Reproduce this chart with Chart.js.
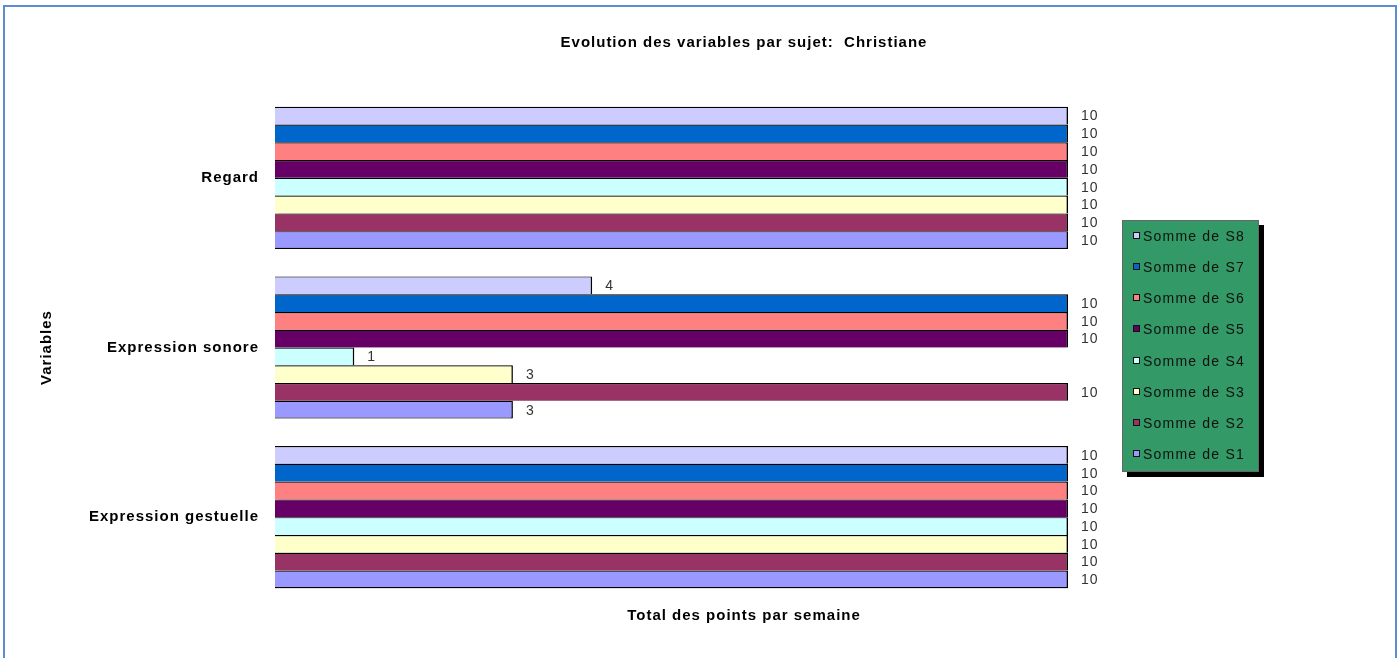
<!DOCTYPE html>
<html><head><meta charset="utf-8">
<script src="https://cdn.jsdelivr.net/npm/chart.js@4.4.0/dist/chart.umd.min.js"></script>
<style>
html,body{margin:0;padding:0;background:#fff;}
#wrap{position:relative;width:1399px;height:658px;overflow:hidden;}
#frame{position:absolute;left:3px;top:5px;width:1390px;height:700px;border:2px solid #5B8DD3;}
canvas{position:absolute;left:0;top:0;}
</style></head><body>
<div id="wrap"><div id="frame"></div><canvas id="c" width="1399" height="658"></canvas></div>
<script>
// ---- data ----
const categories = ['Regard', 'Expression sonore', 'Expression gestuelle'];
const seriesNames = ['Somme de S8', 'Somme de S7', 'Somme de S6', 'Somme de S5', 'Somme de S4', 'Somme de S3', 'Somme de S2', 'Somme de S1'];
const S8 = [10, 4, 10];
const S7 = [10, 10, 10];
const S6 = [10, 10, 10];
const S5 = [10, 10, 10];
const S4 = [10, 1, 10];
const S3 = [10, 3, 10];
const S2 = [10, 10, 10];
const S1 = [10, 3, 10];
const seriesValues = [S8, S7, S6, S5, S4, S3, S2, S1];
const xMin = 0, xMax = 10;
const chartTitle = 'Evolution des variables par sujet:  Christiane';
const xTitle = 'Total des points par semaine';
const yTitle = 'Variables';

// ---- styles ----
const seriesColors = ['#CCCCFF', '#0066CC', '#FF8080', '#660066', '#CCFFFF', '#FFFFCC', '#993366', '#9999FF'];
const FONT = "'Liberation Sans', Arial, sans-serif";

const decor = {
  id: 'decor',
  beforeDraw(chart) { chart.ctx.letterSpacing = '1px'; },
  beforeDatasetsDraw(chart) {
    const c = chart.ctx;
    c.save();
    c.shadowColor = 'rgba(0,0,0,0.4)';
    c.shadowOffsetX = -1;
    c.shadowOffsetY = 1;
    c.shadowBlur = 1.5;
  },
  afterDatasetsDraw(chart) {
    const c = chart.ctx;
    c.restore();
    c.save();
    c.letterSpacing = '1px';
    c.font = '14px ' + FONT;
    c.fillStyle = '#333';
    c.textAlign = 'left';
    c.textBaseline = 'middle';
    chart.data.datasets.forEach((ds, i) => {
      const meta = chart.getDatasetMeta(i);
      meta.data.forEach((el, j) => {
        c.fillText(String(ds.data[j]), el.x + 13, el.y + 1);
      });
    });
    c.restore();
  },
  afterDraw(chart) {
    const c = chart.ctx;
    c.save();
    // titles
    c.letterSpacing = '1px';
    c.font = 'bold 15px ' + FONT;
    c.fillStyle = '#000';
    c.textAlign = 'center';
    c.textBaseline = 'middle';
    c.fillText(chartTitle, 744, 43);
    c.fillText(xTitle, 744, 616);
    // legend
    const lx = 1122, ly = 220, lw = 137, lh = 252;
    c.fillStyle = '#000';
    c.fillRect(lx + 5, ly + 5, lw, lh);
    c.fillStyle = '#339966';
    c.fillRect(lx, ly, lw, lh);
    c.strokeStyle = '#666';
    c.lineWidth = 1;
    c.strokeRect(lx + 0.5, ly + 0.5, lw - 1, lh - 1);
    c.letterSpacing = '1.2px';
    c.font = '14px ' + FONT;
    c.textAlign = 'left';
    chart.data.datasets.forEach((ds, i) => {
      const y = Math.round(236 + i * 31.15);
      c.fillStyle = ds.backgroundColor;
      c.fillRect(1133, y - 4, 7, 7);
      c.strokeStyle = '#111';
      c.strokeRect(1133.5, y - 3.5, 6, 6);
      c.fillStyle = '#111';
      c.fillText(ds.label, 1143, y + 1);
    });
    c.restore();
  }
};

new Chart(document.getElementById('c'), {
  type: 'bar',
  data: {
    labels: categories,
    datasets: seriesValues.map((v, i) => ({
      label: seriesNames[i],
      data: v,
      backgroundColor: seriesColors[i],
      borderColor: '#000',
      borderWidth: i === seriesValues.length - 1 ? {top: 1.2, right: 1.5, bottom: 1.2, left: 0} : {top: 1.2, right: 1.5, bottom: 0, left: 0},
      borderSkipped: false,
      categoryPercentage: 0.838,
      barPercentage: 1
    }))
  },
  options: {
    indexAxis: 'y',
    responsive: false,
    animation: false,
    layout: {padding: {top: 93, bottom: 56, left: 30, right: 331}},
    plugins: {legend: {display: false}, tooltip: {enabled: false}, title: {display: false}},
    scales: {
      x: {display: false, min: xMin, max: xMax},
      y: {
        grid: {display: false, drawTicks: false},
        border: {display: false},
        ticks: {font: {family: FONT, size: 15, weight: 'bold'}, color: '#000', padding: 16},
        title: {display: true, text: yTitle, font: {family: FONT, size: 15, weight: 'bold'}, color: '#000', padding: {top: 8, bottom: 0}},
        afterFit(s) { s.width = 245; }
      }
    }
  },
  plugins: [decor]
});
</script>
</body></html>
